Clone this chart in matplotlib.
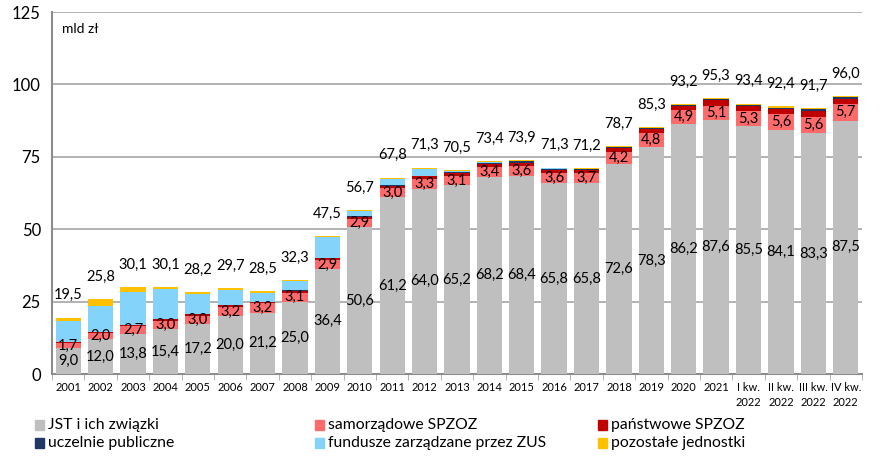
import matplotlib.pyplot as plt
from matplotlib.patches import Rectangle
import numpy as np

plt.rcParams['font.family'] = ['Lato', 'DejaVu Sans']

# kategorie i wartości (mld zł)
labels = ['2001', '2002', '2003', '2004', '2005', '2006', '2007', '2008', '2009',
          '2010', '2011', '2012', '2013', '2014', '2015', '2016', '2017', '2018',
          '2019', '2020', '2021', 'I kw.\n2022', 'II kw.\n2022', 'III kw.\n2022',
          'IV kw.\n2022']
jst = [9.0, 12.0, 13.8, 15.4, 17.2, 20.0, 21.2, 25.0, 36.4, 50.6, 61.2, 64.0, 65.2,
       68.2, 68.4, 65.8, 65.8, 72.6, 78.3, 86.2, 87.6, 85.5, 84.1, 83.3, 87.5]
samorz = [1.7, 2.0, 2.7, 3.0, 3.0, 3.2, 3.2, 3.1, 2.9, 2.9, 3.0, 3.3, 3.1, 3.4, 3.6,
          3.6, 3.7, 4.2, 4.8, 4.9, 5.1, 5.3, 5.6, 5.6, 5.7]
panstw = [0.3, 0.4, 0.4, 0.5, 0.4, 0.6, 0.6, 0.6, 0.6, 0.7, 0.8, 1.0, 1.0, 1.0, 1.0,
          1.2, 1.1, 1.3, 1.6, 1.6, 1.8, 1.9, 1.8, 2.0, 1.9]
uczelnie = [0.0, 0.0, 0.0, 0.0, 0.0, 0.0, 0.0, 0.2, 0.2, 0.2, 0.2, 0.2, 0.3, 0.4, 0.5,
            0.3, 0.3, 0.3, 0.4, 0.3, 0.4, 0.3, 0.5, 0.5, 0.4]
zus = [7.3, 9.2, 11.3, 10.3, 7.2, 5.2, 2.9, 3.1, 7.1, 1.9, 2.2, 2.3, 0.5, 0.2, 0.1,
       0.1, 0.0, 0.0, 0.0, 0.0, 0.0, 0.0, 0.0, 0.0, 0.0]
pozostale = [1.2, 2.2, 1.9, 0.9, 0.4, 0.7, 0.6, 0.3, 0.3, 0.4, 0.4, 0.5, 0.4, 0.2, 0.3,
             0.3, 0.3, 0.3, 0.2, 0.2, 0.4, 0.4, 0.4, 0.3, 0.5]
totals = [19.5, 25.8, 30.1, 30.1, 28.2, 29.7, 28.5, 32.3, 47.5, 56.7, 67.8, 71.3, 70.5,
          73.4, 73.9, 71.3, 71.2, 78.7, 85.3, 93.2, 95.3, 93.4, 92.4, 91.7, 96.0]

series = [
    ('JST i ich związki', jst, '#BFBFBF'),
    ('samorządowe SPZOZ', samorz, '#FF6B6B'),
    ('państwowe SPZOZ', panstw, '#C00000'),
    ('uczelnie publiczne', uczelnie, '#1F3864'),
    ('fundusze zarządzane przez ZUS', zus, '#83D3FA'),
    ('pozostałe jednostki', pozostale, '#FFC000'),
]

def fmt(v):
    return f'{v:.1f}'.replace('.', ',')

fig = plt.figure(figsize=(8.84, 4.57), dpi=100)
ax = fig.add_axes([0.0588, 0.1816, 0.9162, 0.7921])

x = np.arange(len(labels))
bottom = np.zeros(len(labels))
bars = {}
for name, vals, col in series:
    bars[name] = ax.bar(x, vals, 0.78, bottom=bottom, color=col, zorder=3)
    bottom += np.array(vals)

ax.bar_label(bars['JST i ich związki'], labels=[fmt(v) for v in jst],
             label_type='center', fontsize=10.5, color='black', zorder=5)
ax.bar_label(bars['samorządowe SPZOZ'], labels=[fmt(v) for v in samorz],
             label_type='center', fontsize=10.5, color='black', padding=0, zorder=5)
for xi, t, b in zip(x, totals, bottom):
    ax.annotate(fmt(t), (xi, b), xytext=(0, 11), textcoords='offset points',
                ha='center', va='bottom', fontsize=10.5)

ax.set_xlim(-0.5, len(labels) - 0.5)
ax.set_ylim(0, 125)
ax.set_yticks([0, 25, 50, 75, 100, 125])
ax.tick_params(axis='y', length=0, labelsize=12, pad=8)
ax.set_xticks(x)
ax.set_xticklabels(labels, fontsize=8, linespacing=1.45)
ax.tick_params(axis='x', length=0, pad=6)
ax.set_xticks(np.arange(-0.5, len(labels)), minor=True)
ax.tick_params(axis='x', which='minor', length=4, color='#A6A6A6', direction='out')
ax.grid(axis='y', color='#A6A6A6', linewidth=1.2, zorder=0)
for s in ['top', 'right']:
    ax.spines[s].set_visible(False)
ax.spines['left'].set_color('#8C8C8C')
ax.spines['bottom'].set_color('#8C8C8C')
ax.spines['left'].set_linewidth(1.5)
ax.spines['bottom'].set_linewidth(1.5)
ax.text(0.012, 0.97, 'mld zł', transform=ax.transAxes, fontsize=10, va='top')

# legenda w dwóch wierszach
cols_x = [35, 315, 598]
rows_y = [425, 443]
for i, (name, _, col) in enumerate(series):
    px = cols_x[i % 3]
    py = rows_y[i // 3]
    fig.patches.append(Rectangle((px / 884, 1 - (py + 5) / 457), 9 / 884, 10 / 457,
                                 transform=fig.transFigure, color=col))
    fig.text((px + 13) / 884, 1 - py / 457, name, fontsize=11.3, va='center')

fig.savefig('out.png', dpi=100)
